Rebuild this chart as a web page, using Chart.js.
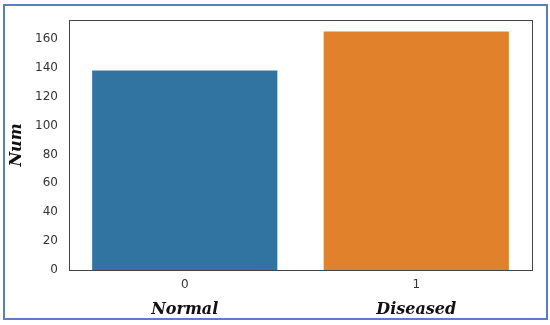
<!DOCTYPE html>
<html>
<head>
<meta charset="utf-8">
<script src="https://cdn.jsdelivr.net/npm/chart.js@4.4.0/dist/chart.umd.min.js"></script>
<style>
  body { margin: 0; background: #fff; }
  #wrap { position: relative; width: 550px; height: 325px; }
  #frame { position: absolute; left: 3px; top: 4px; width: 541px; height: 312px;
           border: 2px solid #5b7ec0; pointer-events: none; }
</style>
</head>
<body>
<div id="wrap">
  <canvas id="num-chart" width="550" height="325"></canvas>
  <div id="frame"></div>
</div>
<script>
// data
let categories = ['0', '1'];
let groupNames = ['Normal', 'Diseased'];
let counts = [138, 165];
let barColors = ['#3274a1', '#e1812c'];

// draws the full box around the plot, like matplotlib spines
const boxPlugin = {
  id: 'box',
  afterDraw(chart) {
    const a = chart.chartArea;
    const ctx = chart.ctx;
    ctx.save();
    ctx.strokeStyle = '#444';
    ctx.lineWidth = 1;
    ctx.strokeRect(a.left + 0.5, a.top + 0.5, a.right - a.left, a.bottom - a.top);
    ctx.restore();
  }
};

let numCtx = document.getElementById('num-chart').getContext('2d');
let numChart = new Chart(numCtx, {
  type: 'bar',
  data: {
    labels: categories,
    datasets: [{
      data: counts,
      backgroundColor: barColors,
      barPercentage: 0.8,
      categoryPercentage: 1.0
    }]
  },
  options: {
    responsive: false,
    animation: false,
    layout: { padding: { top: 20, right: 18, bottom: 4, left: 0 } },
    plugins: { legend: { display: false }, tooltip: { enabled: false } },
    scales: {
      x: {
        position: 'bottom',
        grid: { display: false, drawTicks: true, tickLength: 4, tickColor: '#444' },
        border: { display: false },
        ticks: { color: '#333', padding: 4, font: { family: 'DejaVu Sans', size: 12 } },
        afterFit(s) { s.height = 22; }
      },
      x2: {
        type: 'category',
        position: 'bottom',
        labels: groupNames,
        grid: { display: false, drawTicks: false },
        border: { display: false },
        ticks: { color: '#111', padding: 8,
                 font: { family: 'DejaVu Serif', size: 16, style: 'italic', weight: 'bold' } },
        afterFit(s) { s.height = 29; }
      },
      y: {
        min: 0,
        max: 173,
        grid: { display: false, drawTicks: true, tickLength: 5, tickColor: '#444' },
        border: { display: false },
        ticks: { stepSize: 20, color: '#333', padding: 6, font: { family: 'DejaVu Sans', size: 12 } },
        afterBuildTicks(s) { s.ticks = s.ticks.filter(t => t.value % 20 === 0); },
        title: {
          display: true,
          text: 'Num',
          color: '#111',
          padding: { top: 7, bottom: 0 },
          font: { family: 'DejaVu Serif', size: 16, style: 'italic', weight: 'bold' }
        },
        afterFit(s) { s.width = 69; }
      }
    }
  },
  plugins: [boxPlugin]
});
</script>
</body>
</html>
